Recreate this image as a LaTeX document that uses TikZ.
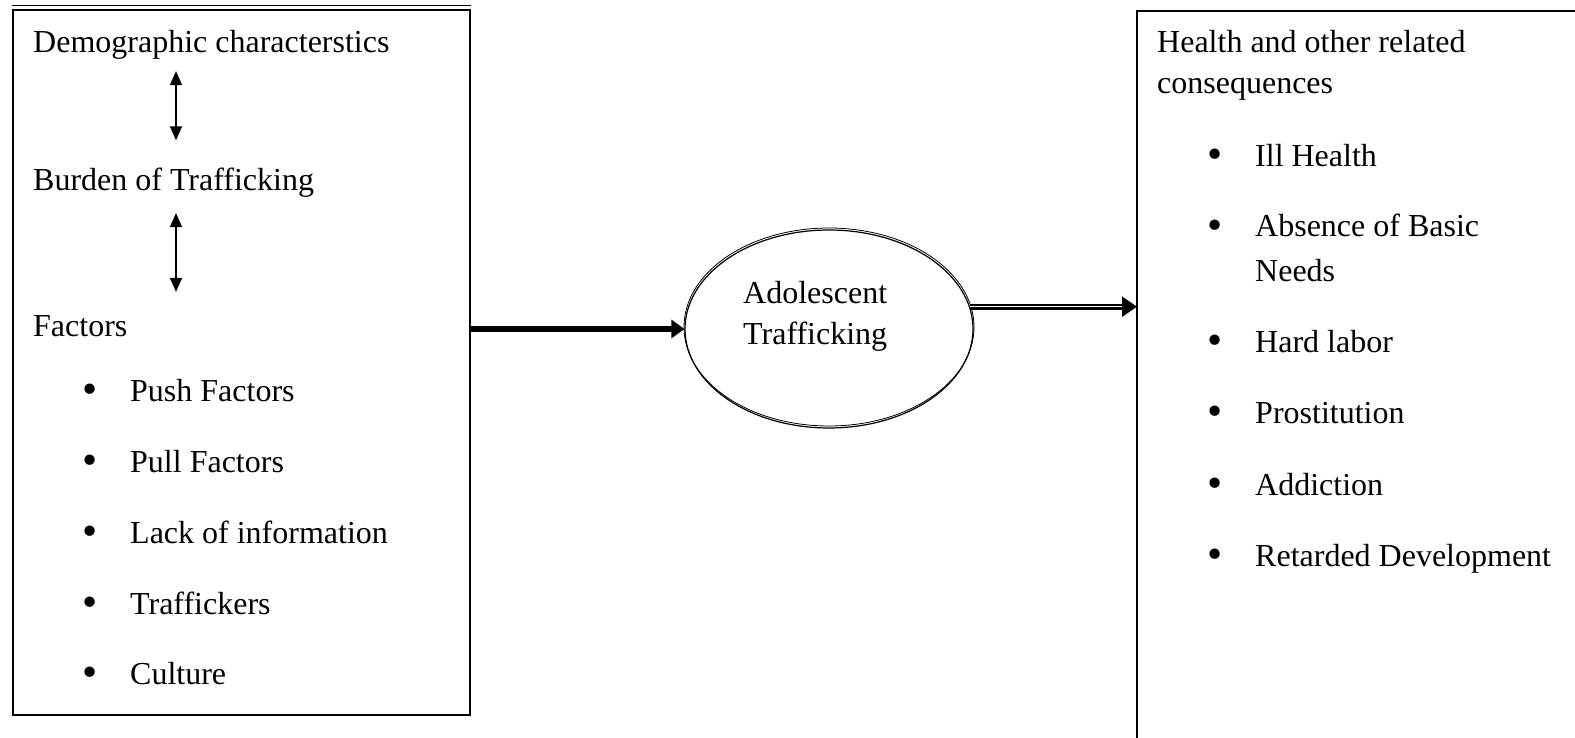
\documentclass[tikz,border=0pt]{standalone}
\usepackage{fontspec}
\setmainfont{Liberation Serif}
\usetikzlibrary{arrows.meta,positioning,shapes.geometric}

\newcommand{\itm}[1]{\makebox[48pt][l]{\raisebox{-2pt}{\scalebox{1.35}{\textbullet}}}#1}

\begin{document}
\begin{tikzpicture}[
    x=1pt, y=-1pt,
    font=\fontsize{32}{41}\selectfont,
    box/.style={
		draw,
		line width=1.8pt,
		inner sep=0pt
	},
    txt/.style={
		anchor=base west,
		inner sep=0pt
	},
    updown/.style={
		{Triangle[length=14pt,width=12pt]}-{Triangle[length=14pt,width=12pt]},
		line width=1.5pt
	},
    bigarrow/.style={
		-{Triangle[length=13pt,width=18pt]},
		line width=5.5pt
	},
    dblarrow/.style={
		-{Triangle[length=15pt,width=20pt]},
		double, line width=2.2pt, double distance=1.5pt
	}
  ]
  \useasboundingbox (0,0) rectangle (1575,738);

  % left box with the causes
  \node [box, minimum width=457pt, minimum height=705pt] (causes) at (241.5,362.5) {};
  \draw [line width=1pt] ([yshift=4pt]causes.north west) -- ([yshift=4pt]causes.north east);

  \node [txt] (demo) at (33,53) {Demographic characterstics};
  \node [txt] (burden) at (33,191) {Burden of Trafficking};
  \node [txt] (factors) at (33,336) {Factors};
  \foreach \name/\t/\y in {push/Push Factors/401, pull/Pull Factors/472,
      lack/Lack of information/543, traff/Traffickers/614, cult/Culture/684}
    \node [txt] (\name) at (82,\y) {\itm{\t}};

  \coordinate (col) at (176,0);
  \draw [updown, shorten <=11pt, shorten >=28pt] (demo.south -| col) -- (burden.north -| col);
  \draw [updown, shorten <=15pt, shorten >=23pt] (burden.south -| col) -- (factors.north -| col);

  % middle ellipse
  \node [draw, ellipse, line width=1.2pt, minimum width=288pt, minimum height=198pt, inner sep=0pt] (adol) at (829,329) {};
  \draw [line width=0.8pt] ([yshift=2pt]adol.center) ellipse [x radius=145pt, y radius=99pt];
  \node [txt, align=left] (adoltxt) at (743,344) {Adolescent\\Trafficking};

  % right box with the consequences
  \coordinate (conseq) at (1137,11);
  \draw [line width=1.8pt] (1137,760) -- (conseq) -- (1600,11);

  \node [txt] (health) at (1157,53) {Health and other related};
  \node [txt] (cons) at (1157,94) {consequences};
  \foreach \name/\t/\y in {ill/Ill Health/167, basic/Absence of Basic/237,
      hard/Hard labor/352, prost/Prostitution/423, addict/Addiction/495,
      retard/Retarded Development/566}
    \node [txt] (\name) at (1207,\y) {\itm{\t}};
  \node [txt] (needs) at (1255,281) {Needs};

  % connectors
  \draw [bigarrow] (causes.east |- adol) -- (adol.west);
  \draw [dblarrow] (adol.9) -- (adol.9 -| conseq);
\end{tikzpicture}
\end{document}
